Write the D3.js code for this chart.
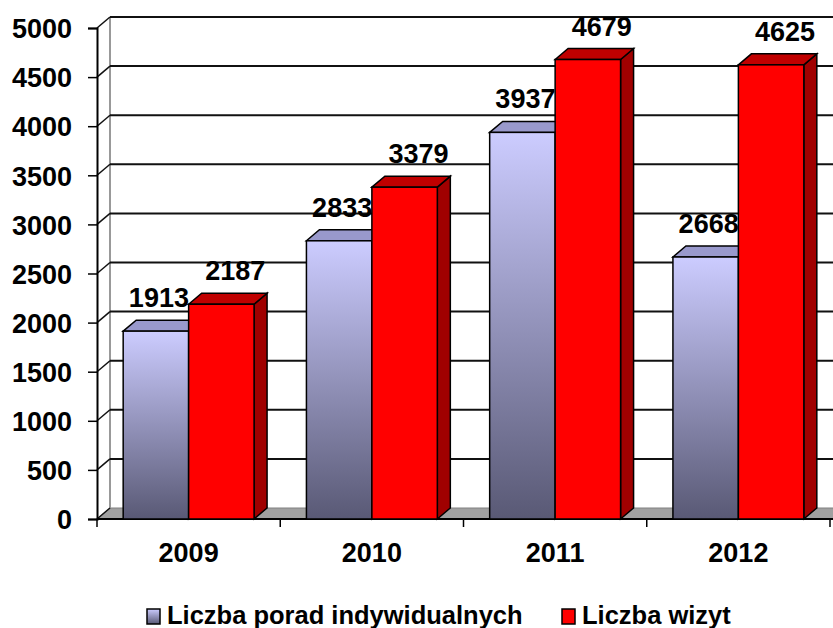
<!DOCTYPE html>
<html>
<head>
<meta charset="utf-8">
<script src="https://cdn.jsdelivr.net/npm/d3@7"></script>
<style>
  body { margin: 0; background: #fff; }
  text { font-family: Arial, "Liberation Sans", sans-serif; font-weight: bold; fill: #000; }
</style>
</head>
<body>
<div id="chart"></div>
<script>
const years = ["2009", "2010", "2011", "2012"]
const series = ["Liczba porad indywidualnych", "Liczba wizyt"]
const porady = [1913, 2833, 3937, 2668]
const wizyty = [2187, 3379, 4679, 4625]
const yTicks = [0, 500, 1000, 1500, 2000, 2500, 3000, 3500, 4000, 4500, 5000]

const W = 833, H = 628
const plotLeft = 97, plotRight = 830, plotBottom = 519, plotTop = 28
const dx = 13, dy = -11   // depth of the 3d effect

const svg = d3.select("#chart").append("svg")
    .attr("width", W).attr("height", H)

const defs = svg.append("defs")
const grad = defs.append("linearGradient")
    .attr("id", "blueGrad").attr("x1", 0).attr("y1", 0).attr("x2", 0).attr("y2", 1)
grad.append("stop").attr("offset", "0%").attr("stop-color", "#ccccff")
grad.append("stop").attr("offset", "100%").attr("stop-color", "#595975")

const y = d3.scaleLinear().domain([0, 5000]).range([plotBottom, plotTop])
const x0 = d3.scaleBand().domain(years).range([plotLeft, plotRight]).padding(0)
const x1 = d3.scaleBand().domain(series).range([0, x0.bandwidth()])
    .paddingInner(0).paddingOuter(0.4)

// floor
svg.append("path")
    .attr("d", `M${plotLeft},${plotBottom} L${plotLeft + dx},${plotBottom + dy} L${W + 20},${plotBottom + dy} L${W + 20},${plotBottom} Z`)
    .attr("fill", "#a0a0a0").attr("stroke", "#808080").attr("stroke-width", 1)

// back wall left edge
svg.append("line")
    .attr("x1", plotLeft + dx).attr("x2", plotLeft + dx)
    .attr("y1", y(5000) + dy).attr("y2", plotBottom + dy)
    .attr("stroke", "#999").attr("stroke-width", 2)

// gridlines on the back wall + side wall diagonals
const grid = svg.append("g")
yTicks.forEach(function(t) {
  if (t > 0) {
    grid.append("line")
      .attr("x1", plotLeft + dx).attr("x2", W + 20)
      .attr("y1", y(t) + dy).attr("y2", y(t) + dy)
      .attr("stroke", "#111").attr("stroke-width", 2)
  }
  grid.append("line")
    .attr("x1", plotLeft).attr("x2", plotLeft + dx)
    .attr("y1", y(t)).attr("y2", y(t) + dy)
    .attr("stroke", "#111").attr("stroke-width", 1.5)
})

// y axis
const yAxis = svg.append("g")
    .attr("transform", "translate(" + plotLeft + ",0)")
    .call(d3.axisLeft(y).tickValues(yTicks).tickFormat(d3.format("d")).tickSize(9).tickPadding(16))
yAxis.select(".domain").attr("stroke", "#000").attr("stroke-width", 2)
yAxis.selectAll(".tick line").attr("stroke", "#000").attr("stroke-width", 1.5)
yAxis.selectAll(".tick text").attr("font-size", 27).attr("font-family", null)
    .attr("dy", "0.36em")

// x axis
const xAxis = svg.append("g")
    .attr("transform", "translate(0," + plotBottom + ")")
xAxis.append("line").attr("x1", plotLeft).attr("x2", W).attr("y1", 0).attr("y2", 0)
    .attr("stroke", "#000").attr("stroke-width", 2)
xAxis.selectAll(".xt")
    .data(years.concat(["end"]))
    .enter().append("line")
    .attr("x1", function(d, i) { return i < years.length ? x0(d) : plotRight })
    .attr("x2", function(d, i) { return i < years.length ? x0(d) : plotRight })
    .attr("y1", 0).attr("y2", 8)
    .attr("stroke", "#000").attr("stroke-width", 1.5)
xAxis.selectAll(".xl")
    .data(years)
    .enter().append("text")
    .attr("x", function(d) { return x0(d) + x0.bandwidth() / 2 })
    .attr("y", 43)
    .attr("text-anchor", "middle")
    .attr("font-size", 27)
    .text(function(d) { return d })

// bars
const data = []
years.forEach(function(yr, i) {
  data.push({ year: yr, key: series[0], value: porady[i], s: 0 })
  data.push({ year: yr, key: series[1], value: wizyty[i], s: 1 })
})
const colors = [
  { front: "url(#blueGrad)", top: "#9999cc", side: "#6d6d99" },
  { front: "#ff0000", top: "#c00000", side: "#a00000" }
]

const bars = svg.append("g").selectAll("g")
    .data(data)
    .enter().append("g")

bars.each(function(d) {
  const g = d3.select(this)
  const x = x0(d.year) + x1(d.key)
  const w = x1.bandwidth()
  const yt = y(d.value)
  const c = colors[d.s]
  // side
  g.append("path")
    .attr("d", `M${x + w},${yt} L${x + w + dx},${yt + dy} L${x + w + dx},${plotBottom + dy} L${x + w},${plotBottom} Z`)
    .attr("fill", c.side).attr("stroke", "#000").attr("stroke-width", 1.5)
  // top
  g.append("path")
    .attr("d", `M${x},${yt} L${x + dx},${yt + dy} L${x + w + dx},${yt + dy} L${x + w},${yt} Z`)
    .attr("fill", c.top).attr("stroke", "#000").attr("stroke-width", 1.5)
  // front
  g.append("rect")
    .attr("x", x).attr("y", yt).attr("width", w).attr("height", plotBottom - yt)
    .attr("fill", c.front).attr("stroke", "#000").attr("stroke-width", 1.5)
})

// value labels
const labelShift = [3, 14]
svg.append("g").selectAll("text")
    .data(data)
    .enter().append("text")
    .attr("x", function(d) { return x0(d.year) + x1(d.key) + x1.bandwidth() / 2 + labelShift[d.s] })
    .attr("y", function(d) { return y(d.value) - 24 })
    .attr("text-anchor", "middle")
    .attr("font-size", 27)
    .text(function(d) { return d.value })

// legend
const legend = svg.append("g")
const legendX = [147, 562]
series.forEach(function(s, i) {
  legend.append("rect")
    .attr("x", legendX[i]).attr("y", 609).attr("width", 13).attr("height", 15)
    .attr("fill", colors[i].front).attr("stroke", "#000").attr("stroke-width", 1.5)
  legend.append("text")
    .attr("x", legendX[i] + 20).attr("y", 624)
    .attr("font-size", 25.5)
    .text(s)
})
</script>
</body>
</html>
